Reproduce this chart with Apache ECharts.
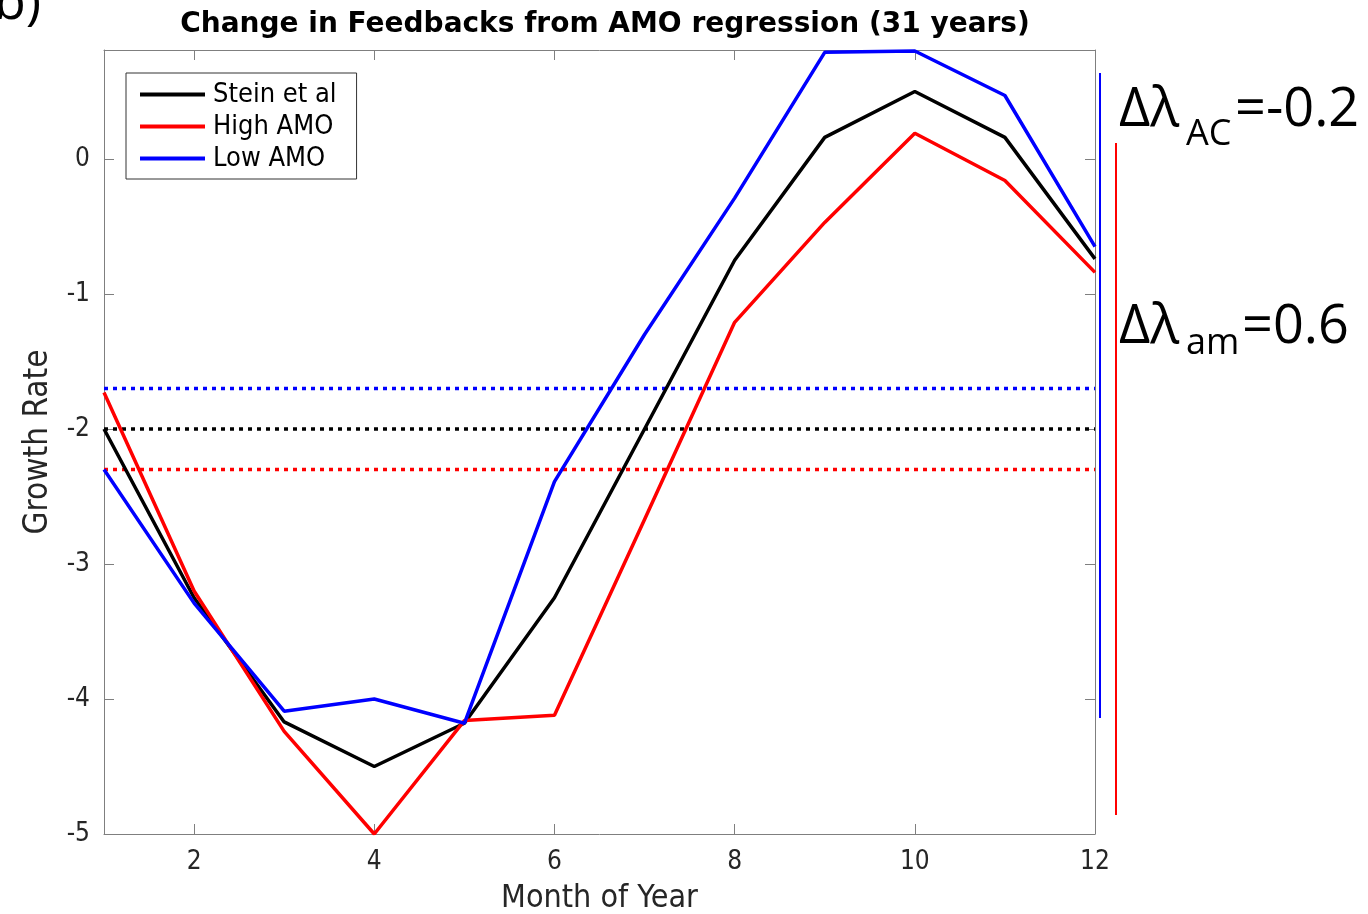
<!DOCTYPE html>
<html><head><meta charset="utf-8">
<script src="https://cdn.jsdelivr.net/npm/echarts@6/dist/echarts.min.js"></script>
<style>html,body{margin:0;padding:0;background:#fff}#c{width:1368px;height:914px}</style>
</head><body><div id="c"></div>
<script>
var months = [1,2,3,4,5,6,7,8,9,10,11,12];
var stein   = [-2.00,-3.25,-4.17,-4.50,-4.18,-3.25,-2.00,-0.75,0.16,0.50,0.16,-0.74];
var highAMO = [-1.73,-3.20,-4.24,-5.00,-4.16,-4.12,-2.67,-1.21,-0.47,0.19,-0.16,-0.84];
var lowAMO  = [-2.30,-3.29,-4.09,-4.00,-4.18,-2.39,-1.30,-0.29,0.79,0.80,0.47,-0.65];
var steinMean = -2.0, highMean = -2.3, lowMean = -1.7;
var xTicks = [2,4,6,8,10,12];
var yTicks = [0,-1,-2,-3,-4,-5];

function pairs(v){ return months.map(function(m,i){ return [m, v[i]]; }); }
function flat(c){ return [[months[0], c],[months[months.length-1], c]]; }

var narrow = '"Liberation Sans Narrow","DejaVu Sans Condensed",sans-serif';
var chart = echarts.init(document.getElementById('c'), null, {renderer:'canvas'});
var axisCol = '#7f7f7f';
function lineSeries(name, data, color){
  return {name:name, type:'line', data:pairs(data), symbol:'none', z:5,
    lineStyle:{color:color, width:3.5}, itemStyle:{color:color}};
}
function dotSeries(c, color){
  return {type:'line', data:flat(c), symbol:'none', z:4, silent:true,
    lineStyle:{color:color, width:3.5, type:[4,5]}};
}
chart.setOption({
  animation:false,
  title:{text:'Change in Feedbacks from AMO regression (31 years)', left:600, top:6, textAlign:'center',
    textStyle:{fontFamily:'"DejaVu Sans", sans-serif', fontWeight:'bold', fontSize:28, color:'#000'}},
  legend:{orient:'vertical', left:126, top:73, padding:[8,20,7,14], itemGap:5,
    borderColor:'#333', borderWidth:1, backgroundColor:'#fff', icon:'rect', itemWidth:65, itemHeight:4,
    textStyle:{fontFamily:narrow, fontSize:27, color:'#000', padding:[0,0,0,3]},
    data:['Stein et al','High AMO','Low AMO']},
  grid:{left:104, right:273, top:50, bottom:80, outerBoundsMode:'none', containLabel:false},
  xAxis:[{type:'value', min:1, max:12, position:'bottom',
    name:'Month of Year', nameLocation:'middle', nameGap:49,
    nameTextStyle:{fontFamily:narrow, fontSize:32, color:'#262626'},
    axisLine:{onZero:false, lineStyle:{color:axisCol, width:1}},
    axisTick:{inside:true, length:10, customValues:xTicks, lineStyle:{color:axisCol}},
    axisLabel:{customValues:xTicks, fontFamily:narrow, fontSize:26, color:'#262626', margin:15},
    splitLine:{show:false}},
   {type:'value', min:1, max:12, position:'top',
    axisLine:{onZero:false, lineStyle:{color:axisCol, width:1}},
    axisTick:{inside:true, length:10, customValues:xTicks, lineStyle:{color:axisCol}},
    axisLabel:{show:false}, splitLine:{show:false}}],
  yAxis:[{type:'value', min:-5, max:0.807, position:'left',
    name:'Growth Rate', nameLocation:'middle', nameGap:49, nameRotate:90,
    nameTextStyle:{fontFamily:narrow, fontSize:33, color:'#262626'},
    axisLine:{show:true, onZero:false, lineStyle:{color:axisCol, width:1}},
    axisTick:{show:true, inside:true, length:10, customValues:yTicks, lineStyle:{color:axisCol}},
    axisLabel:{customValues:yTicks, fontFamily:narrow, fontSize:26, color:'#262626', margin:14},
    splitLine:{show:false}},
   {type:'value', min:-5, max:0.807, position:'right',
    axisLine:{show:true, onZero:false, lineStyle:{color:axisCol, width:1}},
    axisTick:{show:true, inside:true, length:10, customValues:yTicks, lineStyle:{color:axisCol}},
    axisLabel:{show:false}, splitLine:{show:false}}],
  series:[
    dotSeries(lowMean,'#0000ff'),
    dotSeries(steinMean,'#000000'),
    dotSeries(highMean,'#ff0000'),
    lineSeries('Stein et al', stein, '#000000'),
    lineSeries('High AMO', highAMO, '#ff0000'),
    lineSeries('Low AMO', lowAMO, '#0000ff')
  ],
  graphic:[
    {type:'text', left:-6, top:-22, style:{text:'b)', font:'52px "Open Sans", sans-serif', fill:'#000'}},
    {type:'line', shape:{x1:1100,y1:73,x2:1100,y2:718}, style:{stroke:'#0000ff', lineWidth:2}},
    {type:'line', shape:{x1:1116,y1:143,x2:1116,y2:815}, style:{stroke:'#ff0000', lineWidth:2}},
    {type:'text', x:1119, y:84, style:{text:'Δλ', font:'54px "Open Sans", sans-serif', fill:'#000'}},
    {type:'text', x:1186, y:117, style:{text:'AC', font:'36px "Open Sans", sans-serif', fill:'#000'}},
    {type:'text', x:1235, y:84, style:{text:'=-0.2', font:'54px "Open Sans", sans-serif', fill:'#000'}},
    {type:'text', x:1119, y:301, style:{text:'Δλ', font:'54px "Open Sans", sans-serif', fill:'#000'}},
    {type:'text', x:1186, y:326, style:{text:'am', font:'36px "Open Sans", sans-serif', fill:'#000'}},
    {type:'text', x:1242, y:301, style:{text:'=0.6', font:'54px "Open Sans", sans-serif', fill:'#000'}}
  ]
});
</script></body></html>
